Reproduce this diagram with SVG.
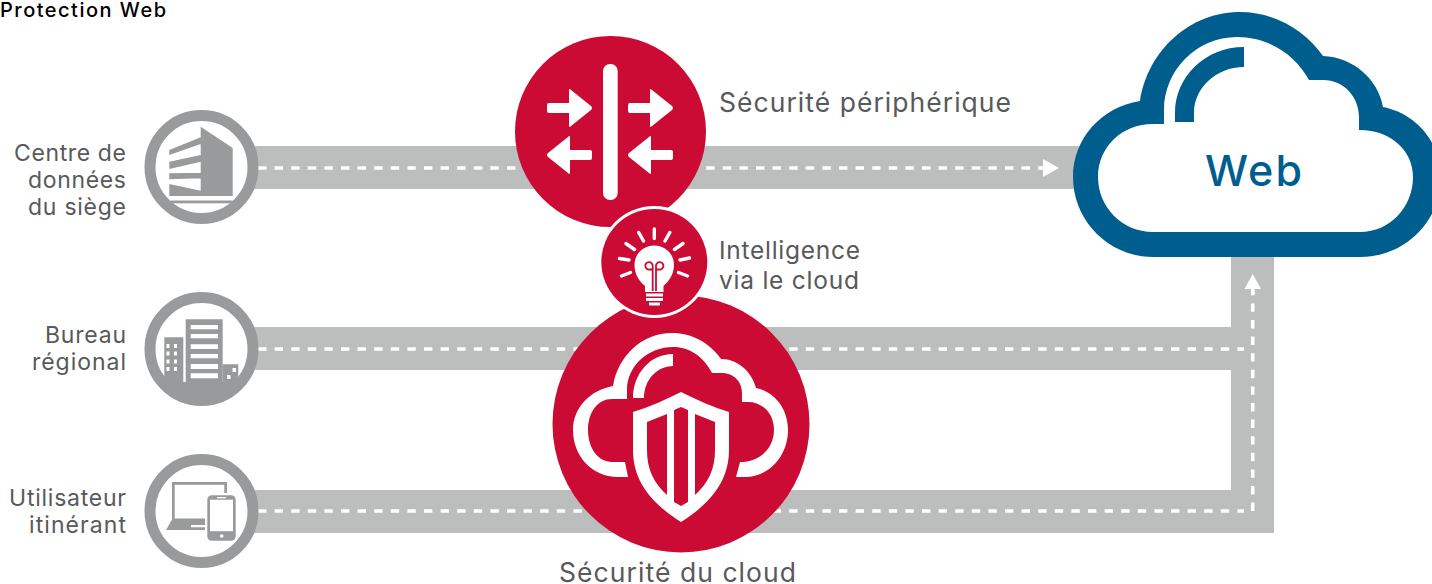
<svg xmlns="http://www.w3.org/2000/svg" width="1432" height="584" viewBox="0 0 1432 584">
<style>
text{font-family:"Inter","Liberation Sans",sans-serif;fill:#58595b;font-size:23px}
.l{text-anchor:end}
.road{fill:#bcbebd}
.dash{fill:none;stroke:#fff;stroke-width:3.6;stroke-dasharray:8.4 8.2}
.ring{fill:#fff;stroke:#999a9c;stroke-width:11}
.g{fill:#999a9c}
.w{fill:#fff}
.r{fill:#cb0b33}
.ray{stroke:#fff;stroke-width:3.4;stroke-linecap:round;fill:none}
</style>
<rect width="1432" height="584" fill="#fff"/>
<text x="0" y="17" style="fill:#000;font-size:20px;font-weight:500" textLength="166">Protection Web</text>
<g id="connectors">
<path class="road" d="M240 146H1100V189H240ZM240 327H1231V257H1274V533H240V490H1231V370H240Z"/>
<path class="dash" d="M258 168H1046"/>
<path class="w" d="M1042 166.300H1043V159L1059 168L1043 177V169.800H1042Z"/>
<path class="dash" d="M258 349H1244"/>
<path class="dash" d="M258 511H1244"/>
<path class="dash" d="M1252.700 511V290"/>
<path class="w" d="M1252.700 274L1261 289H1254.500V294H1251V289H1244.500Z"/>
</g>
<g id="datacenter">
<circle class="ring" cx="201.500" cy="167" r="51.500"/>
<path class="g" d="M200.700 126.700L232.700 148V196H200.700ZM169.300 150L200.700 137.300V144L169.300 155ZM169.300 161.700L200.700 155V161.700L169.300 169ZM169.300 173.300L200.700 172.700V178.300L169.300 179.300ZM169.300 184L200.700 190.700V196H169.300Z"/>
<rect class="g" x="170.500" y="200.500" width="62" height="2.800"/>
<text class="l" x="126" y="160.500" textLength="112">Centre de</text>
<text class="l" x="126" y="187.500" textLength="98">données</text>
<text class="l" x="126" y="214.500" textLength="98">du siège</text>
</g>
<g id="regional">
<circle class="ring" cx="201.500" cy="349" r="51.500"/>
<path class="g" d="M163 382H240Q230 400 201.500 400Q173 400 163 382Z"/>
<path class="g" fill-rule="evenodd" d="M164.300 337.300H183.300V382H164.300ZM166.500 344H169.500V348H166.500ZM174 344H177V348H174ZM166.500 351.500H169.500V355.500H166.500ZM174 351.500H177V355.500H174ZM166.500 359.500H169.500V363.500H166.500ZM174 359.500H177V363.500H174ZM166.500 367H169.500V371H166.500ZM174 367H177V371H174Z"/>
<path class="g" fill-rule="evenodd" d="M185.700 319.300H222.700V382H185.700ZM190.700 325H218V329.300H190.700ZM190.700 334H218V338.300H190.700ZM190.700 344.300H218V349H190.700ZM190.700 354H218V358.300H190.700ZM190.700 364H218V369H190.700ZM190.700 373.300H218V378.300H190.700Z"/>
<path class="g" fill-rule="evenodd" d="M222.700 364.300H238.300V382H222.700ZM227 375H230.500V379H227ZM232.500 368H236V372H232.500Z"/>
<text class="l" x="126" y="342.500" textLength="81">Bureau</text>
<text class="l" x="126" y="369.500" textLength="94">régional</text>
</g>
<g id="roaming">
<circle class="ring" cx="201.500" cy="511" r="51.500"/>
<path class="g" fill-rule="evenodd" d="M172 482H227V517H205V520H172ZM174.700 484.700V518.500H224.300V484.700Z"/>
<path class="g" fill-rule="evenodd" d="M171.700 520H207V530H166ZM191 525V527.300H206V525Z"/>
<rect class="w" x="205" y="493" width="33" height="50" rx="6"/>
<rect class="g" x="207.300" y="495.300" width="28.400" height="45.400" rx="4.500"/>
<rect class="w" x="210" y="499.700" width="23" height="31.500"/>
<rect class="w" x="217" y="497" width="9" height="1.300"/>
<circle class="w" cx="221.700" cy="536" r="1.800"/>
<text class="l" x="126" y="505.500" textLength="117">Utilisateur</text>
<text class="l" x="126" y="532.500" textLength="97">itinérant</text>
</g>
<g id="edge">
<circle class="r" cx="610.500" cy="131.500" r="95.500"/>
<rect class="w" x="603" y="64" width="14.700" height="136" rx="7"/>
<path class="w" d="M549 103H569V90.500Q569 88 571 90L591 106Q593 108 591 110L571 126Q569 128 569 125.500V113H549Q547 113 547 111V105Q547 103 549 103Z"/>
<path class="w" d="M630 103H650V90.500Q650 88 652 90L672 106Q674 108 672 110L652 126Q650 128 650 125.500V113H630Q628 113 628 111V105Q628 103 630 103Z"/>
<path class="w" d="M590 150H570V137.500Q570 135 568 137L548 153Q546 155 548 157L568 173Q570 175 570 172.500V160H590Q592 160 592 158V152Q592 150 590 150Z"/>
<path class="w" d="M671 150H651V137.500Q651 135 649 137L629 153Q627 155 629 157L649 173Q651 175 651 172.500V160H671Q673 160 673 158V152Q673 150 671 150Z"/>
<text x="719" y="111.500" style="font-size:26.500px" textLength="292">Sécurité périphérique</text>
</g>
<g id="cloud-security">
<circle class="r" cx="681" cy="424" r="128.500"/>
<path class="w" fill-rule="evenodd" d="M628 477L625 462H612C598 462 588 448 588 430C588 412 598 399 612 399H627V390C627 366 648 347 673 347C690 347 704 357 712 373H722C734 373 742 382 742 393V402H748C763 402 774 414 774 430C774 448 760 462 740 462L736 477H745C770 477 788 455 788 430C788 409 775 392 756 388C752 372 738 359 721 359C710 343 692 333 672 333C642 333 618 356 613 386C590 390 573 408 573 430C573 456 592 477 618 477Z"/>
<path class="w" d="M633 398C633 374 650 354 673 354V366C657 366 644 380 644 398Z"/>
<path class="w" d="M681 392C697 400 713 407 729 412V450C729 483 708 505 681 522C654 505 633 483 633 450V412C649 407 665 400 681 392Z"/>
<path class="r" d="M647 422L667 414V495C654 483 647 470 647 450ZM674 410L681 407L688 410V502L681 506L674 502ZM695 414L715 422V450C715 470 708 483 695 495Z"/>
<text x="559" y="582" style="font-size:26.500px" textLength="237">Sécurité du cloud</text>
</g>
<g id="intelligence">
<circle class="w" cx="654.300" cy="262" r="56"/>
<circle class="r" cx="654.300" cy="262" r="53"/>
<path class="w" d="M645 292V286C640 282 634.500 275 634.500 265C634.500 254 643 245.500 654.300 245.500C665.500 245.500 674 254 674 265C674 275 668 282 663.500 286V292Z"/>
<path fill="none" stroke="#cb0b33" stroke-width="1.800" d="M652.700 291V269.500H649.500A3.700 3.700 0 1 1 652.700 265.800V269.500M656 291V269.500H659.200A3.700 3.700 0 1 0 656 265.800V269.500"/>
<path class="w" d="M646 293.500H663V296.500H646ZM646 298H663V301H646ZM649 302.500H660V304.500Q660 305.500 659 305.500H650Q649 305.500 649 304.500Z"/>
<path class="ray" d="M654.300 229V238.500M638.700 232.500L643.500 241M626 243.500L634.500 249.500M619.500 258.500L629 260M621.500 276L630.500 272.500M669.800 232.500L665 241M683 243.500L674.500 249.500M689.500 258L680 260M687.500 276L678.500 272.500"/>
<text x="719" y="258.500" style="font-size:24.500px" textLength="141">Intelligence</text>
<text x="719" y="288.500" style="font-size:24.500px" textLength="140">via le cloud</text>
</g>
<g id="web">
<path d="M1153 257C1109 257 1073 221 1073 177C1073 139 1101 107 1140 101C1148 50 1190 12 1240 12C1274 12 1305 30 1323 56C1353 57 1378 79 1383 107C1415 113 1441 142 1441 177C1441 221 1405 257 1360 257Z" fill="#005e8e"/>
<path d="M1153 232C1122 232 1098 207 1098 177C1098 147 1122 124 1153 124H1164V110C1164 70 1197 37 1237 37C1268 37 1295 54 1309 80H1323C1344 80 1359 97 1359 117V130H1360C1390 130 1413 150 1413 177C1413 207 1390 232 1360 232Z" fill="#fff"/>
<path d="M1175 122V113C1175 77 1205 47 1244 47V67C1216 67 1194 88 1194 113V122Z" fill="#005e8e"/>
<text x="1205" y="186" style="font-size:43px;font-weight:500;fill:#005e8e" textLength="97">Web</text>
</g>
</svg>
